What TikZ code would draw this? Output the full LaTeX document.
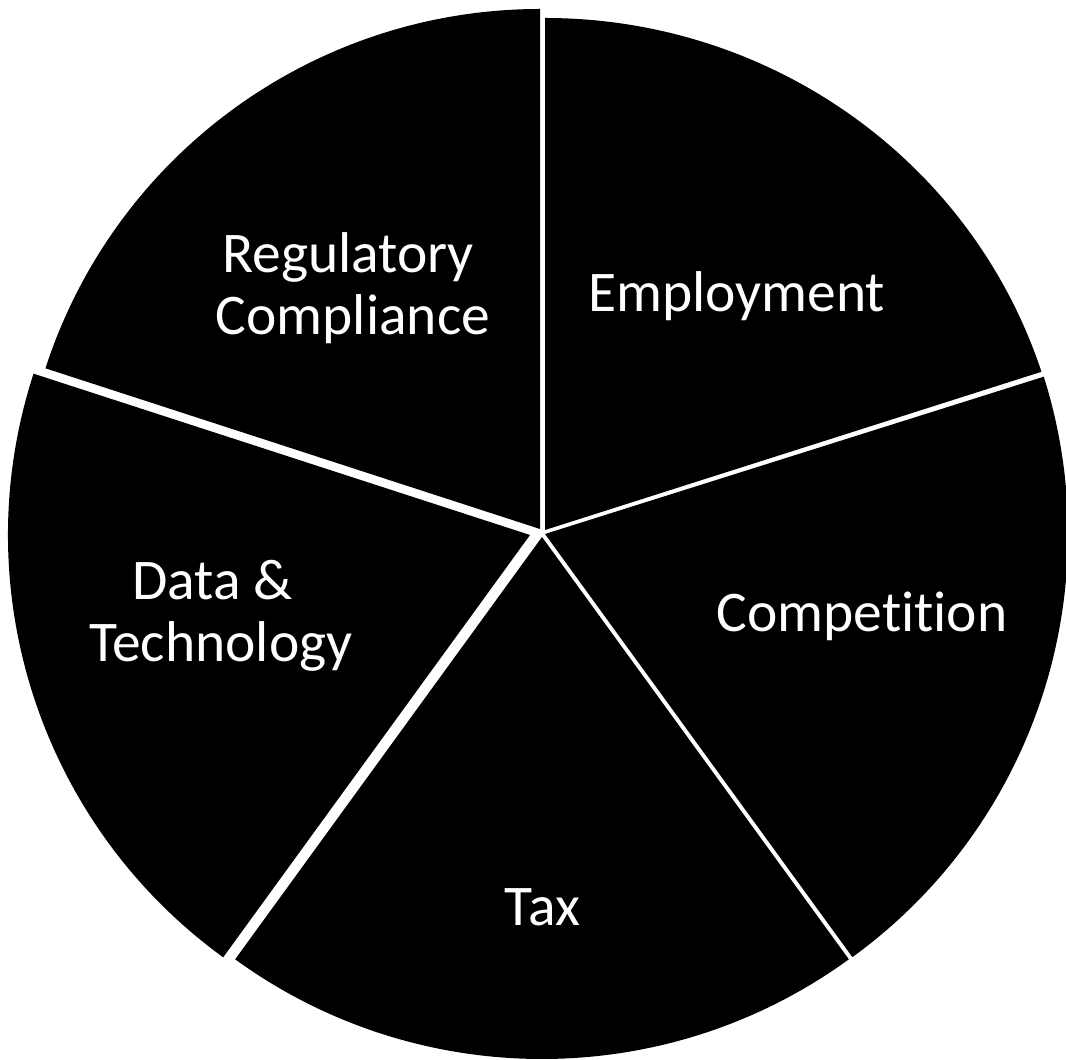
\documentclass[tikz,border=0pt]{standalone}
\usepackage{fontspec}
\setmainfont[Ligatures=NoCommon]{Carlito}
\begin{document}
\begin{tikzpicture}[x=1pt,y=1pt,
  slice/.style={fill=black,draw=none},
  lbl/.style={text=white,font=\fontsize{57.5}{62}\selectfont,anchor=base,inner sep=0pt}]
\fill[white] (0,0) rectangle (1066,1060);
\useasboundingbox (0,0) rectangle (1066,1060);
% Regulatory Compliance
\fill[slice] (540,531) -- ++(90:520) arc[start angle=90,end angle=162,radius=520] -- cycle;
% Employment
\fill[slice] (545,530) -- ++(0,512) arc[start angle=90,end angle=18,x radius=522,y radius=512] -- cycle;
% Competition
\fill[slice] (545,526) -- ++(17.5:523) arc[start angle=17.5,end angle=-54,radius=523] -- cycle;
% Tax
\fill[slice] (542,523) -- ++(-54:522) arc[start angle=-54,end angle=-126,radius=522] -- cycle;
% Data & Technology
\fill[slice] (530,525) -- ++(-126:522) arc[start angle=-126,end angle=-198,radius=522] -- cycle;
\node[lbl] (reg1) at (348,787) {Regulatory};
\node[lbl] (reg2) at (353,725) {Compliance};
\node[lbl] (emp) at (736.5,748.3) {Employment};
\node[lbl] (comp) at (862,428.3) {Competition};
\node[lbl] (data1) at (212.5,460) {Data \&};
\node[lbl] (data2) at (221,398.3) {Technology};
\node[lbl] (tax) at (542.5,134) {Tax};
\end{tikzpicture}
\end{document}
